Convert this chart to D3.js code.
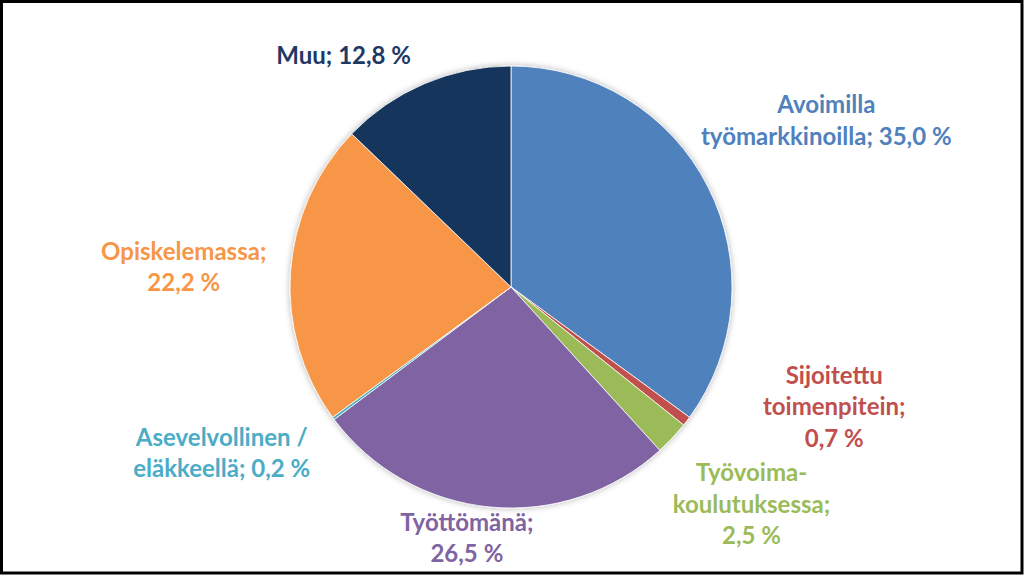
<!DOCTYPE html>
<html>
<head>
<meta charset="utf-8">
<script src="https://cdn.jsdelivr.net/npm/d3@7"></script>
<style>
  body { margin: 0; background: #fff; }
  svg { display: block; }
</style>
</head>
<body>
<script>
var w = 1024,
    h = 575,
    cx = 511,
    cy = 287,
    radius = 221,
    labelRadius = 320,
    lineHeight = 31.5;

// data
const categories = ["Avoimilla työmarkkinoilla", "Sijoitettu toimenpitein", "Työvoimakoulutuksessa",
                    "Työttömänä", "Asevelvollinen / eläkkeellä", "Opiskelemassa", "Muu"];
const shares = [35.0, 0.7, 2.5, 26.5, 0.2, 22.2, 12.8];
// label text as it is broken into lines on the chart
const labelLines = [
    ["Avoimilla", "työmarkkinoilla; 35,0 %"],
    ["Sijoitettu", "toimenpitein;", "0,7 %"],
    ["Työvoima-", "koulutuksessa;", "2,5 %"],
    ["Työttömänä;", "26,5 %"],
    ["Asevelvollinen /", "eläkkeellä; 0,2 %"],
    ["Opiskelemassa;", "22,2 %"],
    ["Muu; 12,8 %"]
];

// styles / layout
const colours = ["#4f81bd", "#c0504d", "#9bbb59", "#8064a2", "#4bacc6", "#f79646", "#17365d"];
const textColours = ["#4f81bd", "#c0504d", "#9bbb59", "#8064a2", "#4bacc6", "#f79646", "#1f3864"];
// nudges from the label-arc centroid (excel moved the labels by hand)
const labelNudge = [[30, -13], [69, -66], [7, 7], [-14, -59], [-32, -16], [-8, 10], [-42, 71]];

const svg = d3.select("body").append("svg")
    .attr("width", w)
    .attr("height", h);

const defs = svg.append("defs");
defs.append("filter")
    .attr("id", "shadow")
    .attr("x", "-10%").attr("y", "-10%")
    .attr("width", "120%").attr("height", "120%")
  .append("feDropShadow")
    .attr("dx", 0).attr("dy", 0)
    .attr("stdDeviation", 3)
    .attr("flood-color", "#000")
    .attr("flood-opacity", 0.3);

const slices = categories.map((c, i) => ({ name: c, value: shares[i], idx: i }));

const pie = d3.pie()
    .value(d => d.value)
    .sort(null);

const arc = d3.arc()
    .innerRadius(0)
    .outerRadius(radius);

const labelArc = d3.arc()
    .innerRadius(labelRadius)
    .outerRadius(labelRadius);

const arcs = pie(slices);

const g = svg.append("g")
    .attr("transform", `translate(${cx},${cy})`);

g.append("g")
    .attr("filter", "url(#shadow)")
  .selectAll("path")
  .data(arcs)
  .enter().append("path")
    .attr("d", arc)
    .attr("fill", d => colours[d.data.idx])
    .attr("stroke", "#fff")
    .attr("stroke-width", 0.8);

const labels = g.selectAll("text.label")
  .data(arcs)
  .enter().append("text")
    .attr("class", "label")
    .attr("text-anchor", "middle")
    .style("font-family", "Lato, 'Open Sans', sans-serif")
    .style("font-weight", "bold")
    .style("font-size", "24px")
    .style("fill", d => textColours[d.data.idx])
    .attr("transform", d => {
        const c = labelArc.centroid(d),
              n = labelNudge[d.data.idx];
        return `translate(${c[0] + n[0]},${c[1] + n[1]})`;
    });

labels.each(function(d) {
    const lines = labelLines[d.data.idx],
          first = -(lines.length - 1) * lineHeight / 2;
    d3.select(this).selectAll("tspan")
      .data(lines)
      .enter().append("tspan")
        .attr("x", 0)
        .attr("y", (l, i) => first + i * lineHeight)
        .text(l => l);
});

// frame round the picture
svg.append("rect")
    .attr("x", 1.5)
    .attr("y", 1.5)
    .attr("width", w - 3.5)
    .attr("height", h - 3.5)
    .attr("fill", "none")
    .attr("stroke", "#000")
    .attr("stroke-width", 3);
</script>
</body>
</html>
